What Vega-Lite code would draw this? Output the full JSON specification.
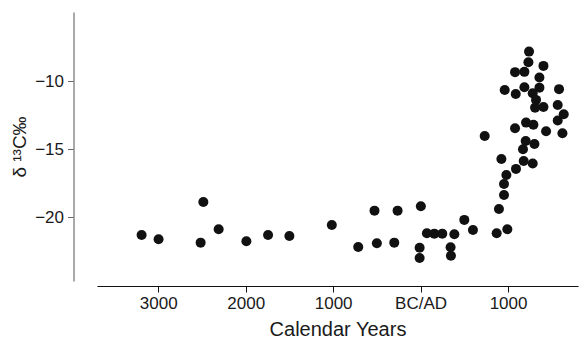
{
  "$schema": "https://vega.github.io/schema/vega-lite/v6.json",
  "width": 481,
  "height": 269,
  "autosize": "none",
  "padding": {"left": 97, "top": 12, "right": 3, "bottom": 62},
  "background": "white",
  "config": {"view": {"stroke": null}, "font": "Liberation Sans"},
  "data": {"values": [
    {"year": -3190, "d13c": -21.29},
    {"year": -2996, "d13c": -21.60},
    {"year": -2484, "d13c": -18.86},
    {"year": -2515, "d13c": -21.85},
    {"year": -2309, "d13c": -20.87},
    {"year": -1992, "d13c": -21.75},
    {"year": -1744, "d13c": -21.29},
    {"year": -1500, "d13c": -21.36},
    {"year": -1015, "d13c": -20.55},
    {"year": -713, "d13c": -22.17},
    {"year": -527, "d13c": -19.50},
    {"year": -500, "d13c": -21.90},
    {"year": -263, "d13c": -19.50},
    {"year": -301, "d13c": -21.85},
    {"year": 3, "d13c": -19.18},
    {"year": -11, "d13c": -22.22},
    {"year": -11, "d13c": -22.98},
    {"year": 72, "d13c": -21.16},
    {"year": 157, "d13c": -21.19},
    {"year": 248, "d13c": -21.19},
    {"year": 386, "d13c": -21.24},
    {"year": 343, "d13c": -22.19},
    {"year": 347, "d13c": -22.81},
    {"year": 500, "d13c": -20.18},
    {"year": 599, "d13c": -20.92},
    {"year": 870, "d13c": -21.16},
    {"year": 992, "d13c": -20.87},
    {"year": 896, "d13c": -19.38},
    {"year": 954, "d13c": -18.35},
    {"year": 954, "d13c": -17.54},
    {"year": 981, "d13c": -16.88},
    {"year": 733, "d13c": -14.01},
    {"year": 1091, "d13c": -16.43},
    {"year": 924, "d13c": -15.70},
    {"year": 1179, "d13c": -15.85},
    {"year": 1282, "d13c": -16.04},
    {"year": 1171, "d13c": -14.99},
    {"year": 1202, "d13c": -14.38},
    {"year": 1302, "d13c": -14.60},
    {"year": 1080, "d13c": -13.44},
    {"year": 1206, "d13c": -13.03},
    {"year": 1290, "d13c": -13.18},
    {"year": 1435, "d13c": -13.67},
    {"year": 1622, "d13c": -13.81},
    {"year": 1568, "d13c": -12.88},
    {"year": 1637, "d13c": -12.41},
    {"year": 1240, "d13c": -7.81},
    {"year": 1233, "d13c": -8.59},
    {"year": 1080, "d13c": -9.32},
    {"year": 1187, "d13c": -9.30},
    {"year": 1405, "d13c": -8.86},
    {"year": 1359, "d13c": -9.72},
    {"year": 962, "d13c": -10.63},
    {"year": 1088, "d13c": -10.92},
    {"year": 1187, "d13c": -10.43},
    {"year": 1359, "d13c": -10.46},
    {"year": 1282, "d13c": -10.87},
    {"year": 1320, "d13c": -11.36},
    {"year": 1309, "d13c": -11.93},
    {"year": 1405, "d13c": -11.88},
    {"year": 1583, "d13c": -10.57},
    {"year": 1568, "d13c": -11.73}
  ]},
  "mark": {"type": "point", "filled": true, "color": "#111111", "opacity": 1, "size": 100, "strokeWidth": 0},
  "encoding": {
    "x": {
      "field": "year", "type": "quantitative",
      "scale": {"domain": [-3700, 1800], "nice": false, "zero": false},
      "axis": {
        "values": [-3000, -2000, -1000, 0, 1000],
        "labelExpr": "datum.value == 0 ? 'BC/AD' : format(abs(datum.value), 'd')",
        "title": "Calendar Years",
        "grid": false,
        "offset": 5,
        "domainColor": "#111111",
        "domainWidth": 1.2,
        "tickColor": "#111111",
        "tickSize": 6,
        "tickWidth": 1,
        "labelFontSize": 17,
        "labelColor": "#1a1a1a",
        "labelPadding": 3,
        "titleFontSize": 20,
        "titleFontWeight": "normal",
        "titleColor": "#1a1a1a",
        "titlePadding": 8
      }
    },
    "y": {
      "field": "d13c", "type": "quantitative",
      "scale": {"domain": [-24.67, -4.9], "nice": false, "zero": false},
      "axis": {
        "values": [-10, -15, -20],
        "title": "δ ¹³C‰",
        "grid": false,
        "offset": 23.5,
        "domainColor": "#8c8c8c",
        "domainWidth": 1.5,
        "tickColor": "#666666",
        "tickSize": 6,
        "labelFontSize": 17,
        "labelColor": "#1a1a1a",
        "labelPadding": 4,
        "titleFontSize": 19,
        "titleFontWeight": "normal",
        "titleColor": "#1a1a1a",
        "titlePadding": 5
      }
    }
  }
}
